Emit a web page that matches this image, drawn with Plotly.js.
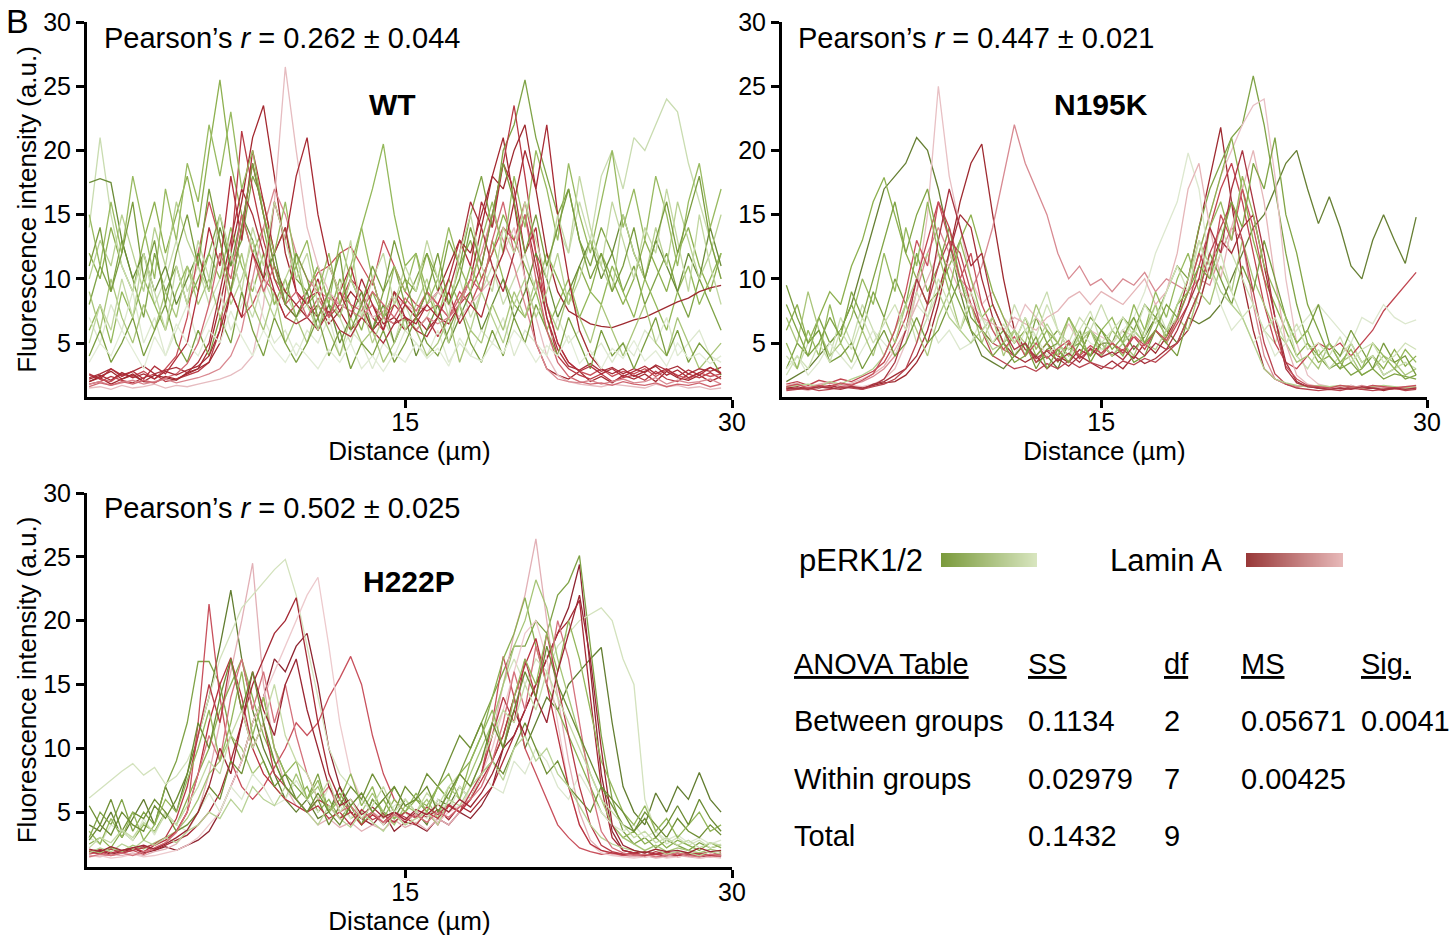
<!DOCTYPE html>
<html>
<head>
<meta charset="utf-8">
<script src="https://cdn.plot.ly/plotly-3.0.1.min.js"></script>
<style>html,body{margin:0;padding:0;background:#fff}#chart{width:1454px;height:941px}</style>
</head>
<body>
<div id="chart"></div>
<script>
// ---------------- DATA ----------------
const distance = [0.5,1,1.5,2,2.5,3,3.5,4,4.5,5, 5.5,6,6.5,7,7.5,8,8.5,9,9.5,10, 10.5,11,11.5,12,12.5,13,13.5,14,14.5,15, 15.5,16,16.5,17,17.5,18,18.5,19,19.5,20, 20.5,21,21.5,22,22.5,23,23.5,24,24.5,25, 25.5,26,26.5,27,27.5,28,28.5,29,29.5];

const panelNames = ['WT', 'N195K', 'H222P'];
const pearsonR = ['0.262 ± 0.044', '0.447 ± 0.021', '0.502 ± 0.025'];
const xTickValues = [15, 30];
const xTickLabels = ['15', '30'];
const yTickValues = [5, 10, 15, 20, 25, 30];
const yTickLabels = ['5', '10', '15', '20', '25', '30'];
const legendLabels = ['pERK1/2', 'Lamin A'];

const wt_pERK = [
 [12,10,14,11,9,13,16,12,15,18, 14,20,25.5,19,15,12,14,10,9,11, 8,9,7,10,8,6,9,7,8,10, 9,12,10,8,11,13,10,12,15,13, 11,9,12,10,8,11,9,12,10,8, 10,13,11,9,12,14,11,9,12],
 [8,11,9,13,10,7,12,9,11,8, 10,12,15,11,13,18,16,12,14,10, 9,11,8,7,10,8,6,9,11,8, 10,12,9,13,11,15,18,14,20,22, 25.5,21,18,15,17,13,11,14,12,9, 11,8,10,12,9,7,10,8,6],
 [14,21,15,11,9,12,8,10,13,9, 11,8,10,12,9,7,10,8,9,7, 8,6,9,7,5,8,6,7,5,8, 6,7,9,8,10,7,9,11,8,10, 12,9,11,14,12,16,13,18,20,17, 21,20,22,24,23,19,16,13,10],
 [6,8,5,9,7,10,8,6,9,11, 9,12,10,14,11,9,12,8,10,7, 9,11,8,13,10,14,17,20.5,15,11, 12,9,7,10,8,11,9,13,10,8, 7,9,6,8,10,7,9,8,11,9, 7,10,8,6,9,11,8,10,12],
 [17.5,17.8,17.5,13,10,12,9,11,8,10, 12,9,14,11,15,13,10,12,8,7, 9,6,8,5,7,9,6,8,5,7, 4,6,8,5,7,9,6,8,10,7, 9,12,10,7,9,11,13,10,12,15, 12,10,13,11,9,12,10,14,11],
 [7,5,8,6,9,5,7,4,6,8, 5,7,9,6,8,10,7,5,6,4, 6,5,7,4,6,5,3,5,4,6, 5,4,6,3.5,5,4,6,5,7,4, 6,5,4,7,5,6,4,5,3.5,5, 4,6,5,7,4,5,6,4,3.5],
 [9,6,10,7,5,8,6,9,7,11, 8,10,7,9,12,8,6,9,5,7, 5,8,6,4,7,5,6,3.5,5,7, 6,4,5,7,3.5,6,5,8,6,9, 7,10,8,6,9,7,5,8,6,4, 6,8,5,4,7,5,3,4,5],
 [4,6,3.5,5,7,4,6,8,5,3.5, 6,4,7,5,9,6,4,7,5,3.5, 5,7,4,6,3,5,4,6,3.5,5, 7,5,4,6,8,5,3.5,6,4,7, 5,8,6,4,7,5,3,6,4,5, 3,5,7,4,6,3.5,5,4,2.5],
 [10,13,11,15,12,9,14,11,16,13, 11,9,12,8,10,13,9,7,10,12, 8,6,9,7,10,8,5,7,9,6, 8,10,7,5,8,6,9,7,5,8, 10,7,9,12,8,10,13,11,9,15, 12,10,14,11,16,13,10,12,15],
 [15,11,16,12,18,14,10,17,13,19, 16,22,18,23,17,20,15,12,16,11, 13,9,12,8,11,14,10,7,11,9, 12,8,10,14,11,9,13,16,12,18, 14,20,17,13,19,15,12,16,20,14, 17,13,18,15,11,16,19,14,17],
 [5,8,6,10,7,12,9,6,11,8, 13,10,15,12,9,14,11,16,13,10, 12,8,11,9,13,7,10,12,8,11, 9,13,10,7,12,15,11,9,14,12, 16,13,10,15,12,18,14,11,16,13, 10,14,12,17,13,9,15,11,8],
 [11,14,9,12,16,10,13,8,12,15, 11,17,13,9,14,19,15,11,8,12, 10,7,9,12,6,8,11,9,13,10, 7,9,12,8,10,14,11,15,19,16, 12,15,11,14,17,13,10,12,9,11, 14,10,13,16,12,15,18,13,10],
 [3.5,5,4,6,4.5,3,5.5,4,6.5,5, 4,6,5,7.5,5.5,4,6,4.5,3.5,5, 4,3,4.5,3.5,5,3,4,2.8,4.2,3.5, 5,3.8,4.6,3.2,5.4,4,3.6,5,4.2,6, 5,3.5,4.8,4,5.6,3.4,4.4,3,4.6,3.8, 5.2,3.6,4.4,3.2,5,3.8,4.2,3.4,4]
];
const wt_laminA = [
 [2.0,2.3,1.8,2.2,2.5,2.0,1.9,2.4,2.2,2.6, 3.0,4.5,8,12,16,21,23.5,18,12,9, 8,7,9,7.5,6,7,8,6.5,7,6, 7,6,7,6.5,8,10,14,18,21,16, 10,5,3,2.5,2.2,2.8,2.0,2.4,1.9,2.5, 2.2,2.6,2.0,2.8,2.3,2.1,2.5,2.0,2.4],
 [1.8,2.0,2.4,2.1,1.9,2.3,2.6,2.0,2.2,2.5, 2.8,3.5,6,12,21.5,17,13,10,8,7, 8.5,9,7,8,10,9,7,6,8,7, 6,7,5.5,7,8,9,11,15,19,23.5, 18,12,7,4,3,2.5,2.2,2.6,2.0,2.3, 2.5,2.1,2.8,2.2,2.0,2.6,2.3,2.7,2.2],
 [2.5,2.2,2.0,2.6,2.4,2.8,2.2,3,4,7, 12,16,13,9,7,8,10,9,7,8, 9,10.5,11,12,12.5,11,9.5,13,11,9, 8,7.5,8,7,9,8,10,12,14,13, 16,12,8,5,3.5,2.8,2.5,3.0,2.4,2.8, 2.6,3.0,2.4,2.9,2.5,2.2,2.7,2.4,2.6],
 [2.0,2.4,2.8,2.2,2.6,2.0,2.5,2.3,2.1,2.7, 3,3.5,5,9,14,19,15,11,9,8, 7,8,6.5,7.5,9,8,6,7,6.5,8, 7,8,9,11,13,12,15,18,17,20, 22,17,12,9,7.5,7,6.5,6.3,6.2,6.5, 6.8,7,7.4,7.8,8.2,8.5,9,9.3,9.5],
 [1.5,1.6,1.4,1.7,1.5,1.6,1.8,1.5,1.7,1.6, 1.8,2.0,2.2,2.5,3,4,8,16,26.5,20, 14,11,9,8,7.5,8,7,7.5,8.5,8, 7.5,8,9,8,7,8,9,10,12,14, 10,7,4,2.5,2.0,1.8,1.7,1.6,1.8,1.7, 1.6,1.5,1.8,1.6,1.7,1.5,1.6,1.4,1.5],
 [1.8,2.0,1.7,1.9,2.1,1.8,2.0,2.2,1.9,2.1, 2.3,2.6,3,4,6,10,14,17,15,12, 10,9,8.5,8,7.5,7,8,7,6.5,7, 6,7,6.5,7,8,10,12,15,13,11, 8,5,3,2.2,2.0,1.9,2.1,1.8,2.0,2.2, 1.9,2.0,2.3,1.8,2.1,1.9,2.0,2.2,1.8],
 [2.3,2.6,3.0,2.5,2.8,3.2,2.6,2.9,3.1,2.7, 3.5,5,9,13,17,15,12,9,7,6.5, 7,6,7.5,6,5.5,7,6,5,6.5,7, 6,5.5,7,9,12,16,14,11,9,12, 15,11,7,4.5,3.2,2.9,3.4,2.8,3.1,2.6, 3.0,2.7,3.3,2.9,3.2,2.6,3.0,2.8,3.1],
 [2.6,2.2,3.0,2.4,2.8,2.2,3.2,2.6,3.8,5, 9,14,11,18,13,20,16,12,14,9, 8,10,7,9,11,8,10,7,9,8, 7,9,8,10,13,11,16,14,19,17, 12,14,8,5,3.5,2.8,3.2,2.6,3,2.4, 2.8,3.2,2.6,3,2.4,2.9,2.5,3.1,2.7],
 [1.6,1.9,1.7,2.0,1.8,2.1,1.9,2.3,2.6,3.4, 5,8,12,10,15,12,9,11,8,9, 7,8.5,7,9,8,7.5,9,8,7,8.5, 7.5,9,8,7,8.5,10,9,13,16,12, 15,10,6,3.5,2.4,2.0,1.8,1.9,1.7,2.0, 1.8,1.7,1.9,1.6,1.8,1.7,1.9,1.6,1.8],
 [2.2,2.5,2.1,2.7,2.3,2.6,2.2,2.8,2.5,2.9, 3.2,4,6,9,7,12,10,16,13,18, 21,15,11,9,7,10,8,6,9,7, 6.5,8,7,9,6.5,8,7,10,12,16, 20,17,22,15,10,6,4,3,2.6,3, 2.4,2.8,3.2,2.5,2.9,2.3,2.7,3.1,2.6]
];

const n195k_pERK = [
 [2,2.5,3,4,5,6,8,11,14,17, 18,19,21,20,17,13,9,6,4,3.5, 3,4,5,3.5,4,3,5,4,6,5, 5,6,4.5,5.5,7,6,5,7,6.5,7, 8,10,12,14,15,17,19,20,17,14.3, 16.4,14,11,10,13,15,13,11.2,14.8],
 [3,5,4,7,5,6,8,6,9,7, 10,8,12,9,11,14,10,8,6,7, 5,6,4,7,5,6,4.5,5,7,6, 5,7,6,8,7,9,11,10,14,17, 19,21,22,25.8,22,17,12,8,5,4, 3,3.5,2.5,3,4,2.5,3,2.2,2.5],
 [6,8,5,7,9,8,11,13,16,17.9, 15,12,10,8,9,11,13,15,12,9, 7,5,6,4,5,3.5,5,4,6,4.5, 5,4,6,5,7,5.5,8,9,12,15, 18,21,17,13,10,8,6,4,5,3.5, 4,3,5,3.5,4,3,4.5,3.2,4],
 [4,3,5,6,4,7,5,8,6,4, 6,8,5,7,9,12,10,8,6,7, 5,8,6,7,9,6,5,7,6,8, 6,5,7,5.5,8,6,7,9,8,11, 14,12,10,8,6,5,7,4,3,4.5, 3,4,5,3.5,4,2.5,3,3.5,3],
 [3,4,2.5,3.5,5,4,3,4.5,6,5, 4,6,8,7,5,6,4.5,5,7,6, 5,4,6,5.5,4,5,3.5,6,5,4.5, 5,6,7,9,12,14,16,19.8,17,11, 8,6,7,5,6,4,5,6,7,8, 7,6,5,7,6.5,8,7,6.5,6.8],
 [7,5,9,6,4,5,3.5,6,4,7, 5,8,6,4,7,9,6,8,5,7, 4,6,5,8,6,4,7,5,6,4, 6,5,4,6,8,5,7,6,9,8, 11,9,13,10,8,6,5,3.5,4,3, 5,3.5,4,2.5,3,4,3.5,2.5,3],
 [9.5,7,5,6,3.5,4,5,3,4.5,6, 4,5,7,5,6,8,10,7,6,5, 6,4,5,3,4.5,5,4,6,3.5,5, 4,5,3.5,4,6,5,4,7,9,12, 10,8,11,9,13,10,7,5,6,8, 5,4,6,4.5,3,5,3.5,4,2.5],
 [1.6,1.7,1.8,1.6,2,1.8,2.2,2.5,3,4, 6,8,10,12,9,7,6,5,6,4.5, 5,6,4,5,6.5,5,4,5.5,6,5, 4,5,6,5,4.5,6,8,10,13,11, 9,8,7,5,3,2.2,1.9,1.7,1.6,1.7, 1.6,1.7,1.6,1.5,1.6,1.7,1.6,1.5,1.6],
 [5,3,6,4,8,5,7,10,8,12, 9,14,11,16,12,9,13,10,7,8, 6,5,7,4.5,6,5,7,5.5,4,6, 7,5,8,6,9,7,10,12,9,14, 16,13,18,15,11,9,7,5,6,4, 5,3.5,4.5,3,5,4,3,4.5,3.5],
 [2.5,4,3,5,3.5,6,4.5,7,5,6.5, 8,6,9,7,10,8,6,9,7,5, 6.5,5,7,5.5,8,6,4.5,6,7.5,5, 6,7,5.5,8,6.5,9,11,9,13,10, 12,9,7,8,6,7,5,6.5,4.5,5, 4,5.5,3.5,4.5,5,3.5,4,5,4.5],
 [8,6,4,5,7,5.5,9,7,10,13, 16,12,15,17,13,10,8,6,5,4, 5,3.5,4,5.5,3,4.5,3.5,5,4,6, 4.5,5.5,7,5,6,8,7,9,11,10, 13,16,14,19,17,21,15,12,8,6, 4,3,3.5,2.5,3,2.2,2.6,2.4,2.2]
];
const n195k_laminA = [
 [1.5,1.6,1.4,1.7,1.5,1.8,1.6,1.5,1.7,1.9, 2.0,2.5,3.5,5,8,12,16,19,20.5,15, 10,6,4.5,4,5,4,3.5,4.5,4,5, 4,4.5,3.8,5,4.2,5.5,7,10,14,18, 21.8,16,10,6,3,2.2,1.8,1.6,1.7,1.5, 1.6,1.5,1.7,1.4,1.6,1.5,1.4,1.6,1.5],
 [1.4,1.5,1.3,1.6,1.4,1.5,1.7,1.6,1.8,2.2, 3,5,9,15,25,18,14,10,8,9, 7,6,8,7,6,5,6.5,5,6,5.5, 5,6,5.5,4.5,6,5,7,9,12,15, 18,20,22,23.5,24,18,10,5,2.5,1.8, 1.6,1.5,1.7,1.5,1.6,1.4,1.5,1.6,1.4],
 [1.6,1.8,1.5,1.7,1.9,1.6,1.8,2.0,2.4,3, 4,6,9,12,14,12,10,9,11,14, 18,22,19,17,15,12,10,11,9.5,10, 9,10,9.5,10.5,9,10,9.5,9,10,9.5, 12,14,13,8,4,2.2,1.8,1.6,1.7,1.5, 1.6,1.4,1.5,1.7,1.5,1.6,1.4,1.5,1.6],
 [1.8,2.0,1.7,2.1,1.9,2.2,2.0,2.4,2.8,3.5, 5,7,10,13,16,14,11,8,6,5, 4.5,4,5,3.5,4.5,4,5,3.8,4.5,4, 5,4.2,5.5,4.5,6,5,6.5,8,11,14, 17,19,16,12,8,5,3.5,3,4,5, 4.5,5,4,5,6,7.5,8.5,9.5,10.5],
 [1.5,1.4,1.6,1.5,1.7,1.5,1.6,1.4,1.8,2.0, 2.5,3,4,6,9,12,15,14,10,7, 5,4,3.5,4,3,3.8,3.2,4,3.5,3, 3.6,3,4,3.4,3.8,4.5,5,6,8,11, 13,12,14,15,11,7,3.5,2,1.6,1.5, 1.4,1.5,1.6,1.4,1.5,1.3,1.5,1.4,1.5],
 [1.7,1.9,1.6,1.8,2.0,1.7,1.9,2.2,2.6,3.2, 4.5,6,8,10,12,11,9,8,7,6.5, 6,7,6.5,6,7,7.5,8.5,9,8,9, 8.5,8,9,10,8,9,12,17,19,14, 10,14,17,20,16,10,5,2.5,1.8,1.6, 1.5,1.6,1.4,1.5,1.7,1.5,1.6,1.4,1.5],
 [1.3,1.4,1.5,1.3,1.4,1.6,1.5,1.4,1.6,1.8, 2.2,3,5,8,11,13,12,9,6,4, 3.5,3,3.2,2.8,3.4,3,3.6,3.1,3.5,3.2, 3,3.6,3.3,3.8,3.5,4.2,5,7,9,12, 14,16,13,9,5,2.6,1.8,1.5,1.4,1.3, 1.4,1.3,1.5,1.4,1.3,1.4,1.5,1.3,1.4],
 [1.6,1.8,1.5,1.7,1.6,1.9,1.7,2.1,2.6,4, 6,9,13,11,16,13,10,12,8,6, 4.5,5.5,4,5,3.8,4.6,5.2,4,4.8,4.2, 5,4.4,5.6,4.8,6,5.2,6.8,9,12,10, 15,13,17,14,10,6,3.2,2.2,1.7,1.6, 1.5,1.7,1.6,1.5,1.7,1.6,1.5,1.6,1.7],
 [1.4,1.5,1.4,1.6,1.5,1.4,1.6,1.5,1.7,2.2, 3.5,6,10,8,13,17,14,11,12,8, 6,4.5,5,3.8,4.4,3.6,4.2,3.5,4.6,3.9, 4.3,3.7,4.8,4,5,4.5,6,8,10,14, 12,17,20,16,12,7,3,1.9,1.6,1.5, 1.4,1.5,1.4,1.6,1.5,1.4,1.5,1.4,1.5]
];

const h222p_pERK = [
 [4,3.5,5,3,4.5,6,4,7,5,8, 11,14,18,22.4,17,13,10,8,6,5, 6,4.5,5,7,5.5,4,6,5,4.5,6, 5,4,6,5.5,7,6,8,9,11,14, 10,12,14,13,15,16,17,17.9,12,7, 5,4,6.5,5,7,6,8.1,6,5],
 [3,5,4,6,3.5,5,4,7,9,12, 16.8,16.8,15,11,9,12,14,10,8,7, 6,8,5,6.5,5,4,6,5,7,5.5, 6,5,7,6,8,10,12,14,16,18, 18,20,19,22,23,25.1,18,11,6,3.5, 2.5,3,2.2,2.8,2.4,2,2.6,2.2,2.4],
 [6.1,6.8,7.5,8.2,8.8,7.9,8.5,7.2,7.8,9, 11,14,17,19,21,22,23,24,24.8,22, 18,14,10,8,7,6,5,6,4.5,5, 4,5.5,4.5,6,5,7,9,12,15,17, 15,17,16,18,19,20,20.5,21,20,17, 15,6,3.5,2.5,3,2.4,2.8,2.2,2.5],
 [2.5,3,2.2,3.5,2.8,4,3.5,5,4,6, 8,10,13,15,17,14,11,9,7,6, 7,5,6,4.5,5.5,4,5,6,4.5,5, 6,5.5,7,6,8,9,11,14,17,19, 21.8,18,15,13,11,9,7,5,4,3, 3.5,2.5,3,2.2,2.8,2.4,2,2.6,2.2],
 [2,1.8,2.2,1.9,2.4,2.1,2.6,3,3.5,4.5, 6,8,9,11,10,8,9,7,6,8, 6,7,5,6,4.5,5,6.5,5,4,5.5, 5,6,4.5,7,6,8,10,12,15,18, 20,23.2,21,17,14,11,8,6,4,3, 2.5,2,2.4,1.9,2.2,2,1.8,2.1,1.9],
 [3,2.5,4,3.5,2.8,4.5,3.2,5,4,3.5, 5,6.5,5,7,6,8,7,5.5,6,7.5, 6,5,7,5.5,4.5,6,5,4,5.5,6, 5,4.5,6,5,7,6,8,7,6.5,9, 8,10,9,7,6,8,6.5,5,4,3.5, 4,3,3.5,2.8,3.2,2.6,3,2.5,2.8],
 [5.5,4,6,3.5,5,4.5,6,5,3.5,4, 5,7,6,9,8,11,9,7,8,6, 5,6,4,5.5,7,6,8,6.5,5,7, 6,8,7,9,11,10,12,9,8,10, 12,10,8,9,7,6,5,7,5.5,4, 3.5,5,4,3,4.5,3.5,3,4,3.2],
 [1.8,2.2,1.9,2.5,2.1,2.8,2.4,3,2.6,3.5, 4,5,4.5,6,5,7,6,5.5,7,6, 5,4,5.5,4.5,3.8,5,4.2,3.5,4.8,4, 4.5,5,4,6,5.5,7,8,9,7.5,10, 11,9,10,8,7,5.5,4,3,2.5,2.2, 2,1.8,2.1,1.7,1.9,1.8,1.6,1.9,1.7],
 [3.5,2.5,4.5,3,5,2.8,4,6,5,7.5, 10,13,9,12,16,11,14,10,8,9, 6,7.5,5,6,8,5.5,7,4.5,6,5, 6.5,5,7,8,6,9,11,13,10,14, 17,15,19,16,20,17,13,9,7,5, 4,5.5,3.5,4.5,3,4,5,3.5,4],
 [2.2,3,2.6,3.6,3,4.2,3.4,4.8,4,5.5, 7,9,8,11,13,10,12,15,11,9, 8,6,7.5,5,6,4.5,5.5,7,5,6, 5,6.5,5.5,7,8,7,9,11,13,12, 15,13,16,14,12,10,8,6,5,4, 3,3.5,2.6,3,2.4,2.8,2.2,2.6,2.4],
 [2.8,4,3.2,5,4,3.5,5.5,4.5,6,8, 12,10,14,17,13,16,12,9,7,6, 5,6.5,5,4,5.5,6.5,5,6,7,5.5, 6,7,5,6.5,8,7,9,12,10,13, 16,14,18,15,13,11,9,7,6,5, 3.5,4.5,3,4,5.5,4,6,4.5,3.5]
];
const h222p_laminA = [
 [1.8,2.0,1.7,1.9,2.2,1.8,2.0,2.3,2.0,2.4, 2.8,3.5,5,7,9,12,14,17,16,18, 19,15,10,7,5,4.5,4,5,3.5,4.2, 4,3.5,4.5,4,5,4.5,5.5,7,10,11, 13,15,17,19,21,24.4,16,8,3.5,2.0, 1.8,1.6,1.7,1.5,1.6,1.7,1.5,1.6,1.5],
 [1.6,1.5,1.7,1.6,1.8,1.6,1.9,2.1,2.5,3.5, 5,8,12,16,20,24.5,15,10,7,5.5, 5,4,4.5,3.8,4.2,3.5,4,3.6,4.4,3.8, 4.2,3.6,4.5,4,5,6,8,11,15,19, 22,26.4,20,14,9,5,2.8,2,1.7,1.6, 1.5,1.6,1.4,1.5,1.6,1.5,1.4,1.5,1.6],
 [1.7,1.9,1.6,1.8,2.0,1.7,2.2,2.6,3.5,5, 12,21.3,14,9,7,6,7,8.5,10,12, 11,12,14,15.5,17.2,15,11,8,6,5, 4.5,5,4,5.5,5,6,8,12,17.2,14, 10,8,6,4,3,2.2,1.9,1.7,1.8,1.6, 1.7,1.5,1.6,1.8,1.5,1.6,1.7,1.5,1.6],
 [2.0,1.8,2.2,1.9,2.1,2.3,2.0,2.4,2.8,3.2, 4,5,6.5,9,12,15,17,19,20,21.8, 17,12,8,6,5,4.5,5,4,4.8,4.2, 5,4.6,5.2,4.4,5.5,5,6,7,9,11, 13,15,17,19,20,21.6,14,7,3,2, 1.8,1.9,1.7,1.8,1.6,1.7,1.8,1.6,1.7],
 [1.5,1.6,1.4,1.5,1.7,1.5,1.6,1.8,2.0,2.4, 3,4,5,7,9,12,14,16,18,20, 22,23.4,18,12,8,6,5,4.5,5,4, 4.5,5,4.2,5,5.5,6.5,8,10,13,16, 19,20,17,12,7,4,2.5,1.8,1.6,1.5, 1.4,1.5,1.6,1.4,1.5,1.6,1.4,1.5,1.4],
 [1.9,2.1,1.8,2.0,2.2,1.9,2.4,2.8,3.5,5, 8,12,15,17.1,13,10,8,7,6,5.5, 5,6,5.5,4.5,5,4,4.8,4.2,5,4.6, 4,5,4.5,5.5,5,6,7.5,9,11,14, 16.5,18.6,15,11,7,4,2.5,2.0,1.8,1.7, 1.8,1.6,1.7,1.9,1.6,1.8,1.7,1.6,1.8],
 [1.9,1.7,2.1,1.8,2.0,2.2,2.5,3,4.5,7, 11,15,12,17,14,10,12,8,7,6, 5,5.5,4.5,5,4,5.2,4.4,4.8,4.2,5, 4.6,5.4,4.8,5.6,5,6.5,8,11,14,12, 17,14,19,15,11,7,4,2.4,1.9,1.7, 1.8,1.6,1.9,1.7,1.8,1.6,1.7,1.9,1.6],
 [1.5,1.7,1.6,1.8,1.6,1.9,2.1,2.6,3.4,5, 8,11,9,14,17,13,16,12,15,11, 8,6,7,5,5.5,4.5,5,4.2,4.8,4.4, 4.8,4.2,5,4.6,5.4,6,7,9,12,16, 13,18,15,20,17,12,7,3.5,2.2,1.8, 1.6,1.7,1.5,1.6,1.8,1.6,1.5,1.7,1.6],
 [2.1,1.9,2.3,2.0,2.2,2.4,2.1,2.5,3,3.6, 5,7,10,8,12,16,13,11,15,17, 13,10,7,5.5,6,4.8,5.4,4.6,5,4.4, 5.2,4.8,5.6,5,6,5.4,6.5,8,10,13, 11,14,12,16,19,22,17,10,4,2.4, 2,1.8,2.1,1.9,2,1.8,2.2,1.9,2]
];

const anovaHeader = ['ANOVA Table', 'SS', 'df', 'MS', 'Sig.'];
const anovaSource = ['Between groups', 'Within groups', 'Total'];
const anovaSS = ['0.1134', '0.02979', '0.1432'];
const anovaDf = ['2', '7', '9'];
const anovaMS = ['0.05671', '0.00425', ''];
const anovaSig = ['0.0041', '', ''];

// ---------------- STYLE ----------------
const W = 1454, H = 941;
const fx = p => p / W;
const fy = p => 1 - p / H;
const FONT = 'Arial, "Liberation Sans", sans-serif';

const wtGreenColors = ['#8db04f','#7fa346','#c9dcb0','#93b85a','#6b8c38','#dde8cf','#a9c57a','#7b9e40','#b7d091','#98ba60','#c2d7a2','#7a9c3f','#e2ecd6'];
const wtRedColors = ['#a3282f','#b83a45','#c8505a','#9e2a30','#e6bcc0','#d98890','#a8303a','#b02e3a','#cf6670','#a72a34'];
const nGreenColors = ['#667f33','#7fa346','#8db04f','#c9dcb0','#dde8cf','#a9c57a','#789b3e','#b3cf8e','#96b95e','#d0e1b8','#80a445'];
const nRedColors = ['#9e2a30','#e8c0c4','#d88a92','#c04550','#a32e38','#e5b5b8','#b84550','#c7505c','#a83440'];
const hGreenColors = ['#627d30','#7fa246','#d3e2bd','#8cb052','#a6c577','#dce7cf','#6f8f36','#b8d296','#94b75c','#c5daa7','#6c8c34'];
const hRedColors = ['#8e2430','#e2b0b6','#c8505c','#a52a35','#edcacd','#b8323f','#b63a46','#d4727c','#9a2632'];

const traces = [];
function addPanel(greens, reds, gCol, rCol, xa, ya) {
  const n = Math.max(greens.length, reds.length);
  for (let i = 0; i < n; i++) {
    if (i < greens.length) traces.push({type:'scatter', mode:'lines', x:distance, y:greens[i], xaxis:xa, yaxis:ya,
      line:{color:gCol[i], width:1.3}, hoverinfo:'skip', showlegend:false, name:'pERK1/2'});
    if (i < reds.length) traces.push({type:'scatter', mode:'lines', x:distance, y:reds[i], xaxis:xa, yaxis:ya,
      line:{color:rCol[i], width:1.3}, hoverinfo:'skip', showlegend:false, name:'Lamin A'});
  }
}
addPanel(wt_pERK, wt_laminA, wtGreenColors, wtRedColors, 'x', 'y');
addPanel(n195k_pERK, n195k_laminA, nGreenColors, nRedColors, 'x2', 'y2');
addPanel(h222p_pERK, h222p_laminA, hGreenColors, hRedColors, 'x3', 'y3');

// legend gradient bars
traces.push({type:'heatmap', z:[[0,1]], x:[0,1], y:[0], xaxis:'x4', yaxis:'y4', zsmooth:'best',
  colorscale:[[0,'#7a9a3c'],[1,'#d9e6c0']], showscale:false, hoverinfo:'skip'});
traces.push({type:'heatmap', z:[[0,1]], x:[0,1], y:[0], xaxis:'x5', yaxis:'y5', zsmooth:'best',
  colorscale:[[0,'#983838'],[1,'#e8baba']], showscale:false, hoverinfo:'skip'});

const axisBase = {
  showline:true, linecolor:'#000', linewidth:3, ticks:'outside', ticklen:8, tickwidth:3, tickcolor:'#000',
  showgrid:false, zeroline:false, tickfont:{family:FONT, size:25, color:'#000'}, fixedrange:true
};
function xAxis(domain, range, anchor, withTitle) {
  return Object.assign({}, axisBase, {domain, range, anchor, tickmode:'array', tickvals:xTickValues, ticktext:xTickLabels,
    ticklabelstandoff:-7,
    title: withTitle ? {text:'Distance (µm)', font:{family:FONT, size:26, color:'#000'}, standoff:0} : {text:''}});
}
function yAxis(domain, range, anchor, withTitle) {
  return Object.assign({}, axisBase, {domain, range, anchor, tickmode:'array', tickvals:yTickValues, ticktext:yTickLabels,
    title: withTitle ? {text:'Fluorescence intensity (a.u.)', font:{family:FONT, size:26, color:'#000'}, standoff:0} : {text:''}});
}
const hidden = {visible:false, fixedrange:true};

const annotations = [];
function txt(text, px, py, size, xanchor, yanchor) {
  annotations.push({text, x:fx(px), y:fy(py), xref:'paper', yref:'paper', showarrow:false,
    xanchor: xanchor || 'left', yanchor: yanchor || 'middle', font:{family:FONT, size, color:'#000'}});
}
txt('B', 4, 0, 34, 'left', 'top');
const pearsonPos = [[102, 38], [796, 38], [102, 508]];
const namePos = [[392, 104], [1101, 104], [409, 581]];
for (let i = 0; i < 3; i++) {
  txt('Pearson’s <i>r</i> = ' + pearsonR[i], pearsonPos[i][0], pearsonPos[i][1], 29, 'left');
  txt('<b>' + panelNames[i] + '</b>', namePos[i][0], namePos[i][1], 30, 'center');
}
txt(legendLabels[0], 797, 560, 31, 'left');
txt(legendLabels[1], 1108, 560, 31, 'left');

const colX = [792, 1026, 1162, 1239, 1359];
const rowY = [664, 721, 779, 836];
anovaHeader.forEach((h, j) => txt('<u>' + h + '</u>', colX[j], rowY[0], 29, 'left'));
const cols = [anovaSource, anovaSS, anovaDf, anovaMS, anovaSig];
for (let r = 0; r < 3; r++) {
  cols.forEach((c, j) => { if (c[r]) txt(c[r], colX[j], rowY[r + 1], 29, 'left'); });
}

const layout = {
  width: W, height: H, margin:{l:0, r:0, t:0, b:0}, paper_bgcolor:'#fff', plot_bgcolor:'rgba(0,0,0,0)',
  showlegend:false, font:{family:FONT, color:'#000'},
  xaxis: xAxis([fx(87), fx(732)], [0.4, 30], 'y', true),
  yaxis: yAxis([fy(397), fy(22)], [0.8, 30], 'x', true),
  xaxis2: xAxis([fx(782), fx(1427)], [0.3, 30], 'y2', true),
  yaxis2: yAxis([fy(397), fy(22)], [0.8, 30], 'x2', false),
  xaxis3: xAxis([fx(87), fx(732)], [0.4, 30], 'y3', true),
  yaxis3: yAxis([fy(867), fy(493)], [0.7, 30], 'x3', true),
  xaxis4: Object.assign({domain:[fx(941), fx(1037)], range:[0,1], anchor:'y4'}, hidden),
  yaxis4: Object.assign({domain:[fy(567), fy(553)], range:[-0.5,0.5], anchor:'x4'}, hidden),
  xaxis5: Object.assign({domain:[fx(1246), fx(1343)], range:[0,1], anchor:'y5'}, hidden),
  yaxis5: Object.assign({domain:[fy(567), fy(553)], range:[-0.5,0.5], anchor:'x5'}, hidden),
  annotations
};
Plotly.newPlot('chart', traces, layout, {staticPlot:true, displayModeBar:false});
</script>
</body>
</html>
